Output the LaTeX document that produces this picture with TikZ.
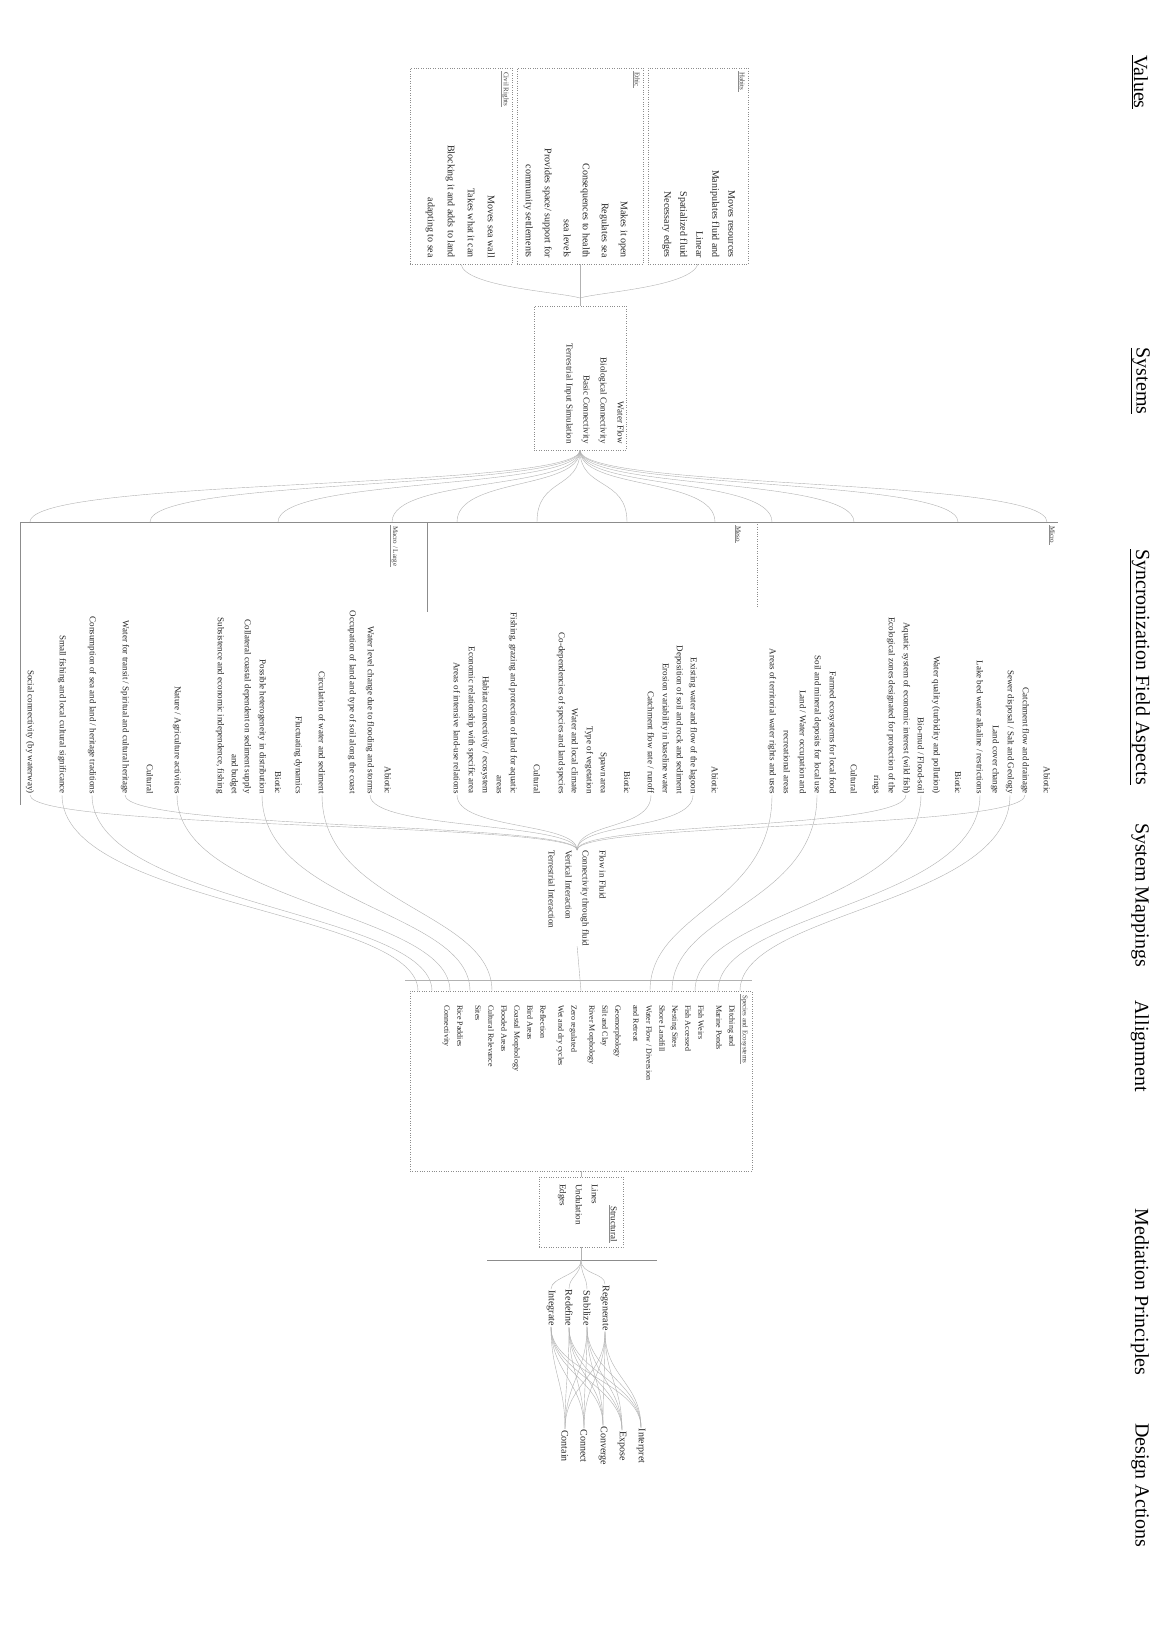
\documentclass[tikz,border=0pt]{standalone}
\usepackage{fontspec}
\setmainfont{Liberation Serif}
\tikzset{
  head/.style={rotate=-90, font=\fontsize{20}{24}\selectfont, text=black},
  tag/.style={rotate=-90, anchor=north west, font=\fontsize{7}{8}\selectfont, text=black!75, inner sep=1pt},
  itm/.style={rotate=-90, anchor=east, font=\fontsize{9}{11}\selectfont, text=black!85, inner sep=1pt},
  blk/.style={rotate=-90, inner sep=0pt, text=black!85},
  act/.style={rotate=-90, font=\fontsize{10}{12}\selectfont, text=black!85, inner sep=1pt},
  grp/.style={draw=black!45, dotted, inner sep=0pt},
  conn/.style={draw=black!30, thin},
  rule/.style={draw=black!45, thin},
}
\begin{document}
\begin{tikzpicture}[x=1pt,y=-1pt]
\fill[white] (0,0) rectangle (1173,1628);
\useasboundingbox (0,0) rectangle (1173,1628);

% column heads
\node[head] (hVal)  at (1140,82)   {\underline{Values}};
\node[head] (hSys)  at (1140,381)  {\underline{Systems}};
\node[head] (hSync) at (1140,667)  {\underline{Syncronization Field Aspects}};
\node[head] (hMap)  at (1140,895)  {System Mappings};
\node[head] (hAlg)  at (1140,1046) {Allignment};
\node[head] (hMed)  at (1140,1292) {Mediation Principles};
\node[head] (hDes)  at (1140,1485) {Design Actions};

% values
\node[grp, minimum width=100pt, minimum height=196pt] (valA) at (698,166) {};
\node[grp, minimum width=126pt, minimum height=196pt] (valB) at (580,166) {};
\node[grp, minimum width=102pt, minimum height=196pt] (valC) at (461,166) {};
\node[tag] (tA) at (746,71) {Habits};
\node[tag] (tB) at (641,71) {Ethic};
\node[tag] (tC) at (510,71) {Civil Rights};
\draw[rule] (tA.south west) -- (tA.south east);
\draw[rule] (tB.south west) -- (tB.south east);
\draw[rule] (tC.south west) -- (tC.south east);
\node[blk, anchor=north east, align=right, font=\fontsize{10}{16}\selectfont] (valAT) at (735,258)
  {Moves resources\\Manipulates fluid and\\Linear\\Spatialized fluid\\Necessary edges};
\node[blk, anchor=north east, align=right, font=\fontsize{10}{19}\selectfont] (valBT) at (628,258)
  {Makes it open\\Regulates sea\\Consequences to health\\sea levels\\Provides space/ support for\\community settlements};
\node[blk, anchor=north east, align=right, font=\fontsize{10}{20}\selectfont] (valCT) at (495,258)
  {Moves sea wall\\Takes what it can\\Blocking it and adds to land\\adapting to sea};
\coordinate (valjoin) at (580,298);
\draw[conn] (valA.south) .. controls (690,287) and (600,292) .. (valjoin);
\draw[conn] (valB.south) -- (valjoin);
\draw[conn] (valC.south) .. controls (465,287) and (560,292) .. (valjoin);

% systems
\node[grp, minimum width=92pt, minimum height=144pt] (sys) at (580,378) {};
\node[blk, anchor=north east, align=right, font=\fontsize{9}{17}\selectfont] (sysT) at (624,444)
  {Water Flow\\Biological Connectivity\\Basic Connectivity\\Terrestrial Input Simulation};
\draw[conn] (valjoin) -- (sys.north);

% syncronization field aspects
\coordinate (sL) at (20,522);
\coordinate (sR) at (1058,522);
\draw[rule] (sL) -- (sR);
\draw[rule] (sL) -- (20,805);
\draw[rule] (427,522) -- (427,612);
\draw[rule, dotted] (757,522) -- (757,607);
\node[tag] (tMicro) at (1056,525) {Micro};
\node[tag] (tMeso)  at (742,525)  {Meso};
\node[tag] (tMacro) at (399,525)  {Macro / Large};
\draw[rule] (tMicro.south west) -- (tMicro.south east);
\draw[rule] (tMeso.south west) -- (tMeso.south east);
\draw[rule] (tMacro.south west) -- (tMacro.south east);

\node[itm] (a0)  at (1047,795) {Abiotic};
\node[itm] (a1)  at (1025,795) {Catchment flow and drainage};
\node[itm] (a2)  at (1010,795) {Sewer disposal / Salt and Geology};
\node[itm] (a3)  at (995,795)  {Land cover change};
\node[itm] (a4)  at (980,795)  {Lake bed water alkaline / restrictions};
\node[itm] (a5)  at (958,795)  {Biotic};
\node[itm] (a6)  at (936,795)  {Water quality (turbidity and pollution)};
\node[itm] (a7)  at (921,795)  {Bio-mud / Flood-soil};
\node[itm] (a8)  at (906,795)  {Aquatic system of economic interest (wild fish)};
\node[itm] (a9)  at (891,795)  {Ecological zones designated for protection of the};
\node[itm] (a10) at (876,795)  {rings};
\node[itm] (a11) at (854,795)  {Cultural};
\node[itm] (a12) at (832,795)  {Farmed ecosystems for local food};
\node[itm] (a13) at (817,795)  {Soil and mineral deposits for local use};
\node[itm] (a14) at (802,795)  {Land / Water occupation and};
\node[itm] (a15) at (787,795)  {recreational areas};
\node[itm] (a16) at (772,795)  {Areas of territorial water rights and uses};

\node[itm] (b0)  at (715,795) {Abiotic};
\node[itm] (b1)  at (693,795) {Existing water and flow of the lagoon};
\node[itm] (b2)  at (679,795) {Deposition of soil and rock and sediment};
\node[itm] (b3)  at (665,795) {Erosion variability in baseline water};
\node[itm] (b4)  at (651,795) {Catchment flow rate / runoff};
\node[itm] (b5)  at (627,795) {Biotic};
\node[itm] (b6)  at (603,795) {Spawn area};
\node[itm] (b7)  at (589,795) {Type of vegetation};
\node[itm] (b8)  at (575,795) {Water and local climate};
\node[itm] (b9)  at (561,795) {Co-dependencies of species and land species};
\node[itm] (b10) at (537,795) {Cultural};
\node[itm] (b11) at (513,795) {Fishing, grazing and protection of land for aquatic};
\node[itm] (b12) at (499,795) {areas};
\node[itm] (b13) at (485,795) {Habitat connectivity / ecosystem};
\node[itm] (b14) at (471,795) {Economic relationship with specific area};
\node[itm] (b15) at (457,795) {Areas of intensive land-use relations};

\node[itm] (c0)  at (388,795) {Abiotic};
\node[itm] (c1)  at (370,795) {Water level change due to flooding and storms};
\node[itm] (c2)  at (352,795) {Occupation of land and type of soil along the coast};
\node[itm] (c3)  at (322,795) {Circulation of water and sediment};
\node[itm] (c4)  at (298,795) {Fluctuating dynamics};
\node[itm] (c5)  at (278,795) {Biotic};
\node[itm] (c6)  at (262,795) {Possible heterogeneity in distribution};
\node[itm] (c7)  at (247,795) {Collateral coastal dependent on sediment supply};
\node[itm] (c8)  at (234,795) {and budget};
\node[itm] (c9)  at (220,795) {Subsistence and economic independence, fishing};
\node[itm] (c10) at (177,795) {Nature / Agriculture activities};
\node[itm] (c11) at (150,795) {Cultural};
\node[itm] (c12) at (125,795) {Water for transit / Spiritual and cultural heritage};
\node[itm] (c13) at (92,795)  {Consumption of sea and land / heritage traditions};
\node[itm] (c14) at (62,795)  {Small fishing and local cultural significance};
\node[itm] (c15) at (30,795)  {Social connectivity (by waterway)};

% systems fan
\foreach \x [count=\i] in {30,150,278,392,457,537,627,715,772,854,958,1047}
  \coordinate (f\i) at (\x,522);
\foreach \i in {1,...,12}
  \draw[conn] (sys.south) .. controls +(0,40) and +(0,-45) .. (f\i);

% system mappings
\node[blk, anchor=north west, align=left, font=\fontsize{9}{17}\selectfont] (maps) at (606,850)
  {Flow in Fluid\\Connectivity through fluid\\Vertical Interaction\\Terrestrial Interaction};
\foreach \s in {a1,a8,b1,b4,b15,c1,c12,c15}
  \draw[conn] (\s.east) .. controls +(0,35) and +(0,-28) .. (maps.west);

% allignment
\coordinate (alL) at (405,980);
\coordinate (alR) at (752,980);
\draw[conn] (alL) -- (alR);
\node[grp, minimum width=342pt, minimum height=180pt] (algn) at (581,1081) {};
\node[tag] (tAlg) at (749,994) {Species and Ecosystems};
\draw[rule] (tAlg.south west) -- (tAlg.south east);
\node[blk, anchor=north west, align=left, font=\fontsize{8}{13}\selectfont] (algT) at (735,1005)
  {Ditching and\\Marine Ponds\\[5pt]Fish Weirs\\Fish Accessed\\Nesting Sites\\Shore Landfill\\Water Flow / Diversion\\and Retreat\\[5pt]Geomorphology\\Silt and Clay\\River Morphology\\[5pt]Zero regulated\\Wet and dry cycles\\[5pt]Reflection\\Bird Areas\\Coastal Morphology\\Flooded Areas\\Cultural Relevance\\Sites\\[5pt]Rice Paddies\\Connectivity};
\draw[conn] (maps.east) -- (algn.north);
\foreach \x [count=\i] in {418,432,450,470,492,650,672,695,718,740}
  \coordinate (t\i) at (\x,991);
\draw[conn] (c14.east) .. controls +(0,110) and +(0,-80) .. (t1);
\draw[conn] (c13.east) .. controls +(0,110) and +(0,-80) .. (t2);
\draw[conn] (c10.east) .. controls +(0,110) and +(0,-80) .. (t3);
\draw[conn] (c6.east)  .. controls +(0,110) and +(0,-80) .. (t4);
\draw[conn] (c3.east)  .. controls +(0,110) and +(0,-80) .. (t5);
\draw[conn] (a16.east) .. controls +(0,110) and +(0,-80) .. (t6);
\draw[conn] (a13.east) .. controls +(0,110) and +(0,-80) .. (t7);
\draw[conn] (a7.east)  .. controls +(0,110) and +(0,-80) .. (t8);
\draw[conn] (a4.east)  .. controls +(0,110) and +(0,-80) .. (t9);
\draw[conn] (a2.east)  .. controls +(0,110) and +(0,-80) .. (t10);

% structural
\node[grp, minimum width=84pt, minimum height=70pt] (strc) at (581,1212) {};
\node[itm] (tStr) at (614,1243) {Structural};
\draw[rule] (tStr.south west) -- (tStr.south east);
\node[blk, anchor=north west, align=left, font=\fontsize{9}{16}\selectfont] (strT) at (598,1184)
  {Lines\\Undulation\\Edges};
\draw[conn] (algn.south) -- (strc.north);

% mediation principles
\coordinate (mL) at (487,1260);
\coordinate (mR) at (657,1260);
\draw[rule] (mL) -- (mR);
\coordinate (medsplit) at (581,1260);
\draw[conn] (strc.south) -- (medsplit);
\node[act] (m1) at (605,1308) {Regenerate};
\node[act] (m2) at (587,1308) {Stabilize};
\node[act] (m3) at (569,1308) {Redefine};
\node[act] (m4) at (551,1308) {Integrate};
\foreach \i in {1,...,4}
  \draw[conn] (medsplit) .. controls +(0,15) and +(0,-12) .. (m\i.west);

% design actions
\node[act] (d1) at (641,1446) {Interpret};
\node[act] (d2) at (622,1446) {Expose};
\node[act] (d3) at (603,1446) {Converge};
\node[act] (d4) at (584,1446) {Connect};
\node[act] (d5) at (565,1446) {Contain};
\foreach \m in {1,...,4}
  \foreach \d in {1,...,5}
    \draw[conn] (m\m.east) .. controls +(0,45) and +(0,-45) .. (d\d.west);
\end{tikzpicture}
\end{document}
